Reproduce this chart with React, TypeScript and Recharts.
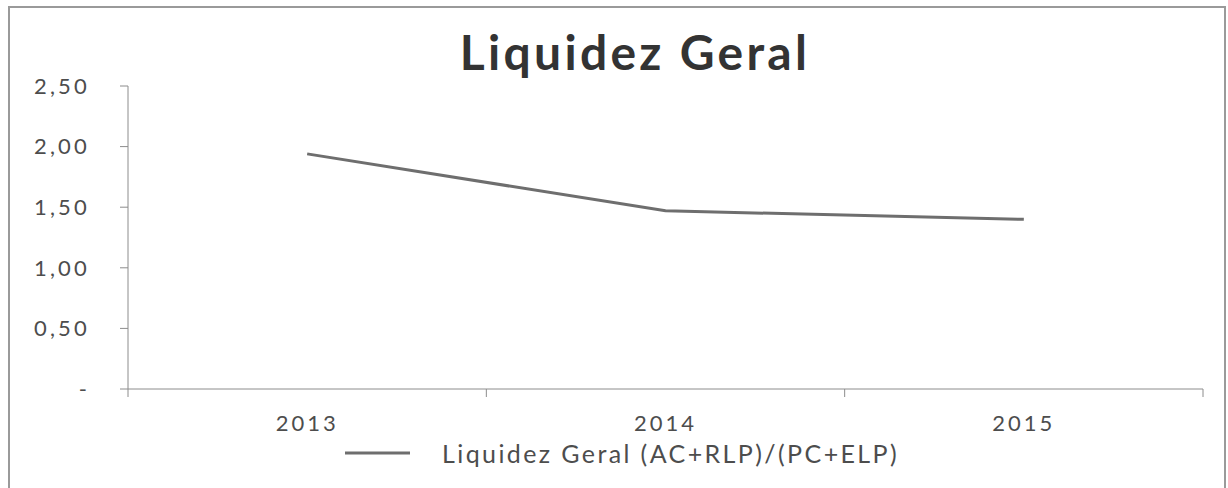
import React from 'react';
import { LineChart, Line, XAxis, YAxis, Legend } from 'recharts';

const years = [2013, 2014, 2015];
const liquidezGeral = [1.94, 1.47, 1.4];
const yTicks = [0, 0.5, 1, 1.5, 2, 2.5];
const boundaryTicks = [2012.5, 2013.5, 2014.5, 2015.5];
const seriesName = 'Liquidez Geral (AC+RLP)/(PC+ELP)';
const chartTitle = 'Liquidez Geral';

const data = years.map((year, i) => ({ year, value: liquidezGeral[i] }));

const FONT = 'Lato, "Open Sans", sans-serif';
const TEXT = '#4d4d4d';
const AXIS = '#8c8c8c';
const LINE = '#6e6e6e';

const fmtY = (v: number) => (v === 0 ? '-' : v.toFixed(2).replace('.', ','));

const LegendContent = () => (
  <div style={{ display: 'flex', alignItems: 'center', fontFamily: FONT, fontSize: 25, color: TEXT, letterSpacing: 2.4 }}>
    <svg width={65} height={10} style={{ marginRight: 32 }}>
      <line x1={0} y1={5} x2={65} y2={5} stroke={LINE} strokeWidth={3} />
    </svg>
    <span>{seriesName}</span>
  </div>
);

export default function App() {
  return (
    <div style={{ position: 'absolute', left: 0, top: 0, width: 1228, height: 488, background: '#fff' }}>
      <div style={{ position: 'absolute', left: 8, top: 6, width: 1218, height: 490, border: '2px solid #9a9a9a', boxSizing: 'border-box' }} />
      <div style={{ position: 'absolute', left: 0, top: 23, width: 1270, textAlign: 'center', fontFamily: FONT, fontWeight: 700, fontSize: 48, color: '#333333', letterSpacing: 3.3 }}>
        {chartTitle}
      </div>
      <div style={{ position: 'absolute', left: 0, top: 0 }}>
        <LineChart width={1228} height={488} data={data} margin={{ top: 86, right: 25, left: 0, bottom: 11 }}>
          <YAxis
            type="number"
            domain={[0, 2.5]}
            ticks={yTicks}
            tickFormatter={fmtY}
            width={128}
            tickSize={8}
            tickMargin={30}
            stroke={AXIS}
            tick={{ fill: TEXT, fontSize: 22, fontFamily: FONT, letterSpacing: 3.2 }}
            interval={0}
          />
          <XAxis
            xAxisId="a"
            dataKey="year"
            type="number"
            domain={[2012.5, 2015.5]}
            ticks={boundaryTicks}
            tickFormatter={() => ''}
            tickSize={8}
            height={8}
            stroke={AXIS}
            interval={0}
          />
          <XAxis
            xAxisId="b"
            dataKey="year"
            type="number"
            domain={[2012.5, 2015.5]}
            ticks={years}
            axisLine={false}
            tickLine={false}
            height={50}
            tickMargin={12}
            tick={{ fill: TEXT, fontSize: 22, fontFamily: FONT, letterSpacing: 3 }}
            interval={0}
          />
          <Line
            xAxisId="a"
            dataKey="value"
            name={seriesName}
            stroke={LINE}
            strokeWidth={3}
            dot={false}
            isAnimationActive={false}
          />
          <Legend content={LegendContent} height={30} wrapperStyle={{ left: 345, width: 850, bottom: 20 }} />
        </LineChart>
      </div>
    </div>
  );
}
